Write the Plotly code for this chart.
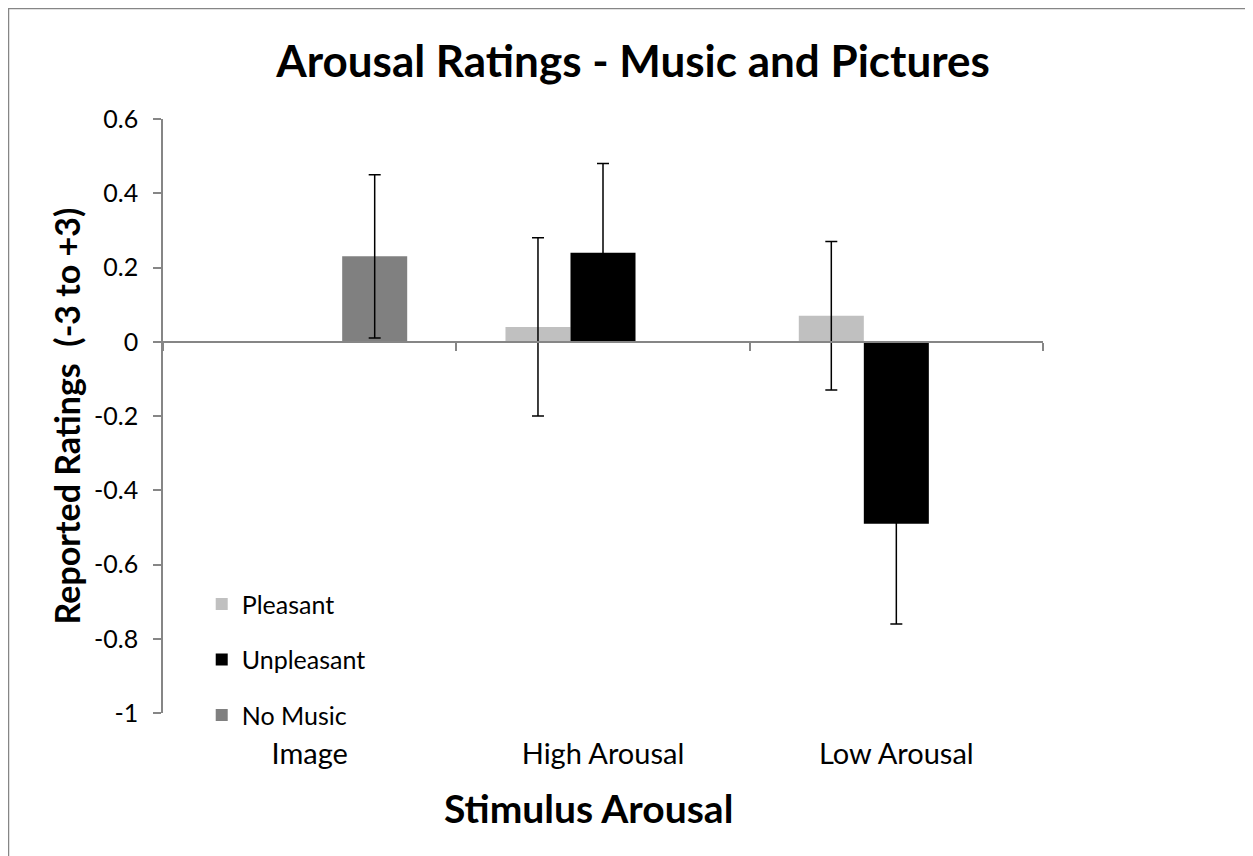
import plotly.graph_objects as go

categories = ["Image", "High Arousal", "Low Arousal"]
series_names = ["Pleasant", "Unpleasant", "No Music"]
pleasant = [None, 0.04, 0.07]
unpleasant = [None, 0.24, -0.49]
no_music = [0.23, None, None]
pleasant_err = [None, 0.24, 0.20]
unpleasant_err = [None, 0.24, 0.27]
no_music_err = [0.22, None, None]
y_ticks = [0.6, 0.4, 0.2, 0, -0.2, -0.4, -0.6, -0.8, -1]
y_tick_text = ["0.6", "0.4", "0.2", "0", "-0.2", "-0.4", "-0.6", "-0.8", "-1"]

colors = ["#C0C0C0", "#000000", "#808080"]
values = [pleasant, unpleasant, no_music]
errors = [pleasant_err, unpleasant_err, no_music_err]

FONT = "Lato"
AX = "#868686"

W, H = 1253, 856
ML, MT, PW, PH = 155, 111, 880, 594
MR = W - ML - PW
MB = H - MT - PH

fig = go.Figure()
for name, vals, errs, col in zip(series_names, values, errors, colors):
    fig.add_trace(go.Bar(
        x=categories, y=vals, name=name, legendgroup=name,
        marker=dict(color=col, line=dict(width=0)),
        error_y=dict(type="data", array=errs, visible=True,
                     color="#000000", thickness=1.5, width=6),
    ))

# invisible trace to carry the category axis drawn at y = 0
fig.add_trace(go.Scatter(x=categories, y=[None] * len(categories), xaxis="x2",
                         showlegend=False, hoverinfo="skip", mode="markers"))

y_min, y_max = -1, 0.6
zero_pos = (0 - y_min) / (y_max - y_min)

fig.update_layout(
    width=W, height=H,
    paper_bgcolor="white", plot_bgcolor="white",
    margin=dict(l=ML, r=MR, t=MT, b=MB),
    barmode="group", bargap=0.335, bargroupgap=0,
    font=dict(family=FONT, color="#000000"),
    title=dict(text="<b>Arousal Ratings - Music and Pictures</b>",
               x=(633 - 8) / W, xanchor="center", y=1 - 54 / H, yanchor="middle",
               font=dict(size=44, family=FONT, color="#000000")),
    xaxis=dict(type="category", categoryorder="array", categoryarray=categories,
               range=[-0.5, 2.5], showline=False, showgrid=False, zeroline=False,
               ticks="", ticklabelstandoff=21,
               tickfont=dict(size=29, color="#000000")),
    xaxis2=dict(type="category", categoryorder="array", categoryarray=categories,
                range=[-0.5, 2.5], overlaying="x", anchor="free", position=zero_pos,
                side="bottom", showline=True, linecolor=AX, linewidth=1.5,
                ticks="outside", tickson="boundaries", ticklen=8, tickcolor=AX,
                tickwidth=1.5, showticklabels=False, showgrid=False, zeroline=False),
    yaxis=dict(range=[y_min, y_max], tickvals=y_ticks, ticktext=y_tick_text,
               showline=True, linecolor=AX, linewidth=1.5,
               ticks="outside", ticklen=8, tickcolor=AX, tickwidth=1.5,
               ticklabelstandoff=10,
               showgrid=False, zeroline=False,
               tickfont=dict(size=25, color="#000000"),
               title=dict(text="<b>Reported Ratings  (-3 to +3)</b>", standoff=3,
                          font=dict(size=34, color="#000000"))),
    legend=dict(x=0.044, y=0.222, xanchor="left", yanchor="top",
                bgcolor="rgba(0,0,0,0)", tracegroupgap=20,
                font=dict(size=25, color="#000000"),
                itemwidth=30),
    showlegend=True,
    annotations=[dict(text="<b>Stimulus Arousal</b>", xref="paper", yref="paper",
                      x=(588 - 8 - ML) / PW, y=(MT + PH - 800) / PH,
                      xanchor="center", yanchor="middle", showarrow=False,
                      font=dict(size=39, family=FONT, color="#000000"))],
    shapes=[dict(type="rect", xref="paper", yref="paper",
                 x0=(0 - ML) / PW, x1=(W + 20 - ML) / PW,
                 y0=(MT + PH - H - 20) / PH, y1=(MT + PH - 0) / PH,
                 line=dict(color=AX, width=2.5), fillcolor="rgba(0,0,0,0)",
                 layer="below")],
)

fig.write_html("out.html")
